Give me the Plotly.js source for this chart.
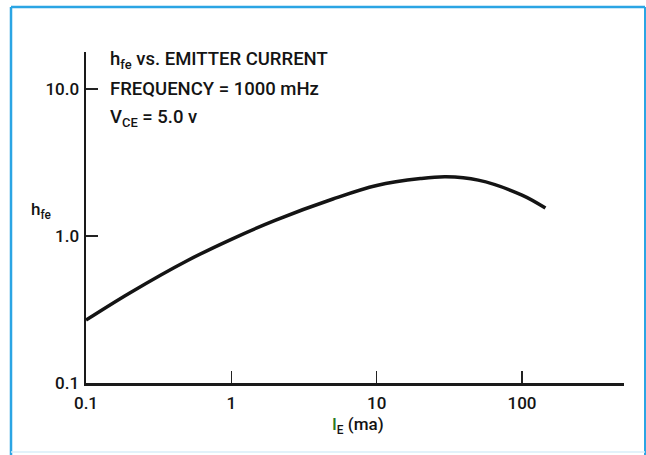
<!DOCTYPE html>
<html>
<head>
<meta charset="utf-8">
<script src="https://cdn.plot.ly/plotly-3.0.1.min.js"></script>
<style>html,body{margin:0;padding:0;background:#fff;}#chart{width:646px;height:455px;}</style>
</head>
<body>
<div id="chart"></div>
<script>
// Emitter current I_E (ma) and small-signal gain h_fe
const emitterCurrent = [0.1, 0.2, 0.5, 1, 2, 5, 10, 20, 30, 50, 100, 145];
const hfeValues      = [0.268, 0.410, 0.682, 0.950, 1.277, 1.785, 2.206, 2.46, 2.53, 2.40, 1.90, 1.55];
const xTickVals = [0.1, 1, 10, 100];
const xTickText = ['0.1', '1', '10', '100'];
const yTickVals = [0.1, 1, 10];
const yTickText = ['0.1', '1.0', '10.0'];

const FONT = 'Roboto, "Liberation Sans Narrow", "DejaVu Sans Condensed", sans-serif';
const L = 86, R = 22, T = 52, B = 72, W = 646, H = 455;
const pw = W - L - R, ph = H - T - B;
const px = v => (v - L) / pw;
const py = v => (H - B - v) / ph;

const trace = {
  x: emitterCurrent, y: hfeValues, type: 'scatter', mode: 'lines',
  line: {color: '#141414', width: 3.5, shape: 'spline', smoothing: 1.0},
  hoverinfo: 'skip'
};

const border = '#2ba5e4';
const layout = {
  width: W, height: H,
  margin: {l: L, r: R, t: T, b: B, pad: 0},
  paper_bgcolor: '#ffffff', plot_bgcolor: '#ffffff',
  showlegend: false,
  font: {family: FONT, color: '#141414', size: 17},
  xaxis: {
    type: 'log', range: [-1, 2.702],
    tickvals: xTickVals, ticktext: xTickText,
    ticks: 'inside', ticklen: 12, tickwidth: 1.5, tickcolor: '#222',
    showline: true, linewidth: 2.5, linecolor: '#1a1a1a',
    showgrid: false, zeroline: false,
    ticklabelstandoff: 3,
    tickfont: {family: FONT, size: 17, color: '#141414', weight: 500}
  },
  yaxis: {
    type: 'log', range: [-1, 1.252],
    tickvals: yTickVals, ticktext: yTickText,
    ticks: 'inside', ticklen: 12, tickwidth: 1.5, tickcolor: '#222',
    showline: true, linewidth: 2.5, linecolor: '#1a1a1a',
    showgrid: false, zeroline: false,
    ticklabelstandoff: 1,
    tickfont: {family: FONT, size: 17, color: '#141414', weight: 500}
  },
  annotations: [
    {xref: 'paper', yref: 'paper', x: px(108), y: py(60), xanchor: 'left', yanchor: 'middle', showarrow: false,
     text: 'h<sub>fe</sub> vs. EMITTER CURRENT', font: {family: FONT, size: 18.5, color: '#141414', weight: 500}},
    {xref: 'paper', yref: 'paper', x: px(108), y: py(89), xanchor: 'left', yanchor: 'middle', showarrow: false,
     text: 'FREQUENCY = 1000 mHz', font: {family: FONT, size: 18.5, color: '#141414', weight: 500}},
    {xref: 'paper', yref: 'paper', x: px(108), y: py(118), xanchor: 'left', yanchor: 'middle', showarrow: false,
     text: 'V<sub>CE</sub> = 5.0 v', font: {family: FONT, size: 18.5, color: '#141414', weight: 500}},
    {xref: 'paper', yref: 'paper', x: px(29), y: py(210), xanchor: 'left', yanchor: 'middle', showarrow: false,
     text: 'h<sub>fe</sub>', font: {family: FONT, size: 17, color: '#141414', weight: 500}},
    {xref: 'paper', yref: 'paper', x: px(358), y: py(425), xanchor: 'center', yanchor: 'middle', showarrow: false,
     text: '<span style="color:#2a7a22">I</span><sub>E</sub> (ma)', font: {family: FONT, size: 17, color: '#141414', weight: 500}}
  ],
  shapes: [
    {type: 'line', xref: 'paper', yref: 'paper', x0: px(11), x1: px(11), y0: py(7), y1: py(455), line: {color: border, width: 2.5}},
    {type: 'line', xref: 'paper', yref: 'paper', x0: px(11), x1: px(645), y0: py(7), y1: py(7), line: {color: border, width: 2.5}},
    {type: 'line', xref: 'paper', yref: 'paper', x0: px(645), x1: px(645), y0: py(7), y1: py(455), line: {color: border, width: 2}},
    {type: 'line', xref: 'paper', yref: 'paper', x0: px(11), x1: px(645), y0: py(452), y1: py(452), line: {color: '#d8eef9', width: 1.5}}
  ]
};

Plotly.newPlot('chart', [trace], layout, {staticPlot: true, displayModeBar: false});
</script>
</body>
</html>
